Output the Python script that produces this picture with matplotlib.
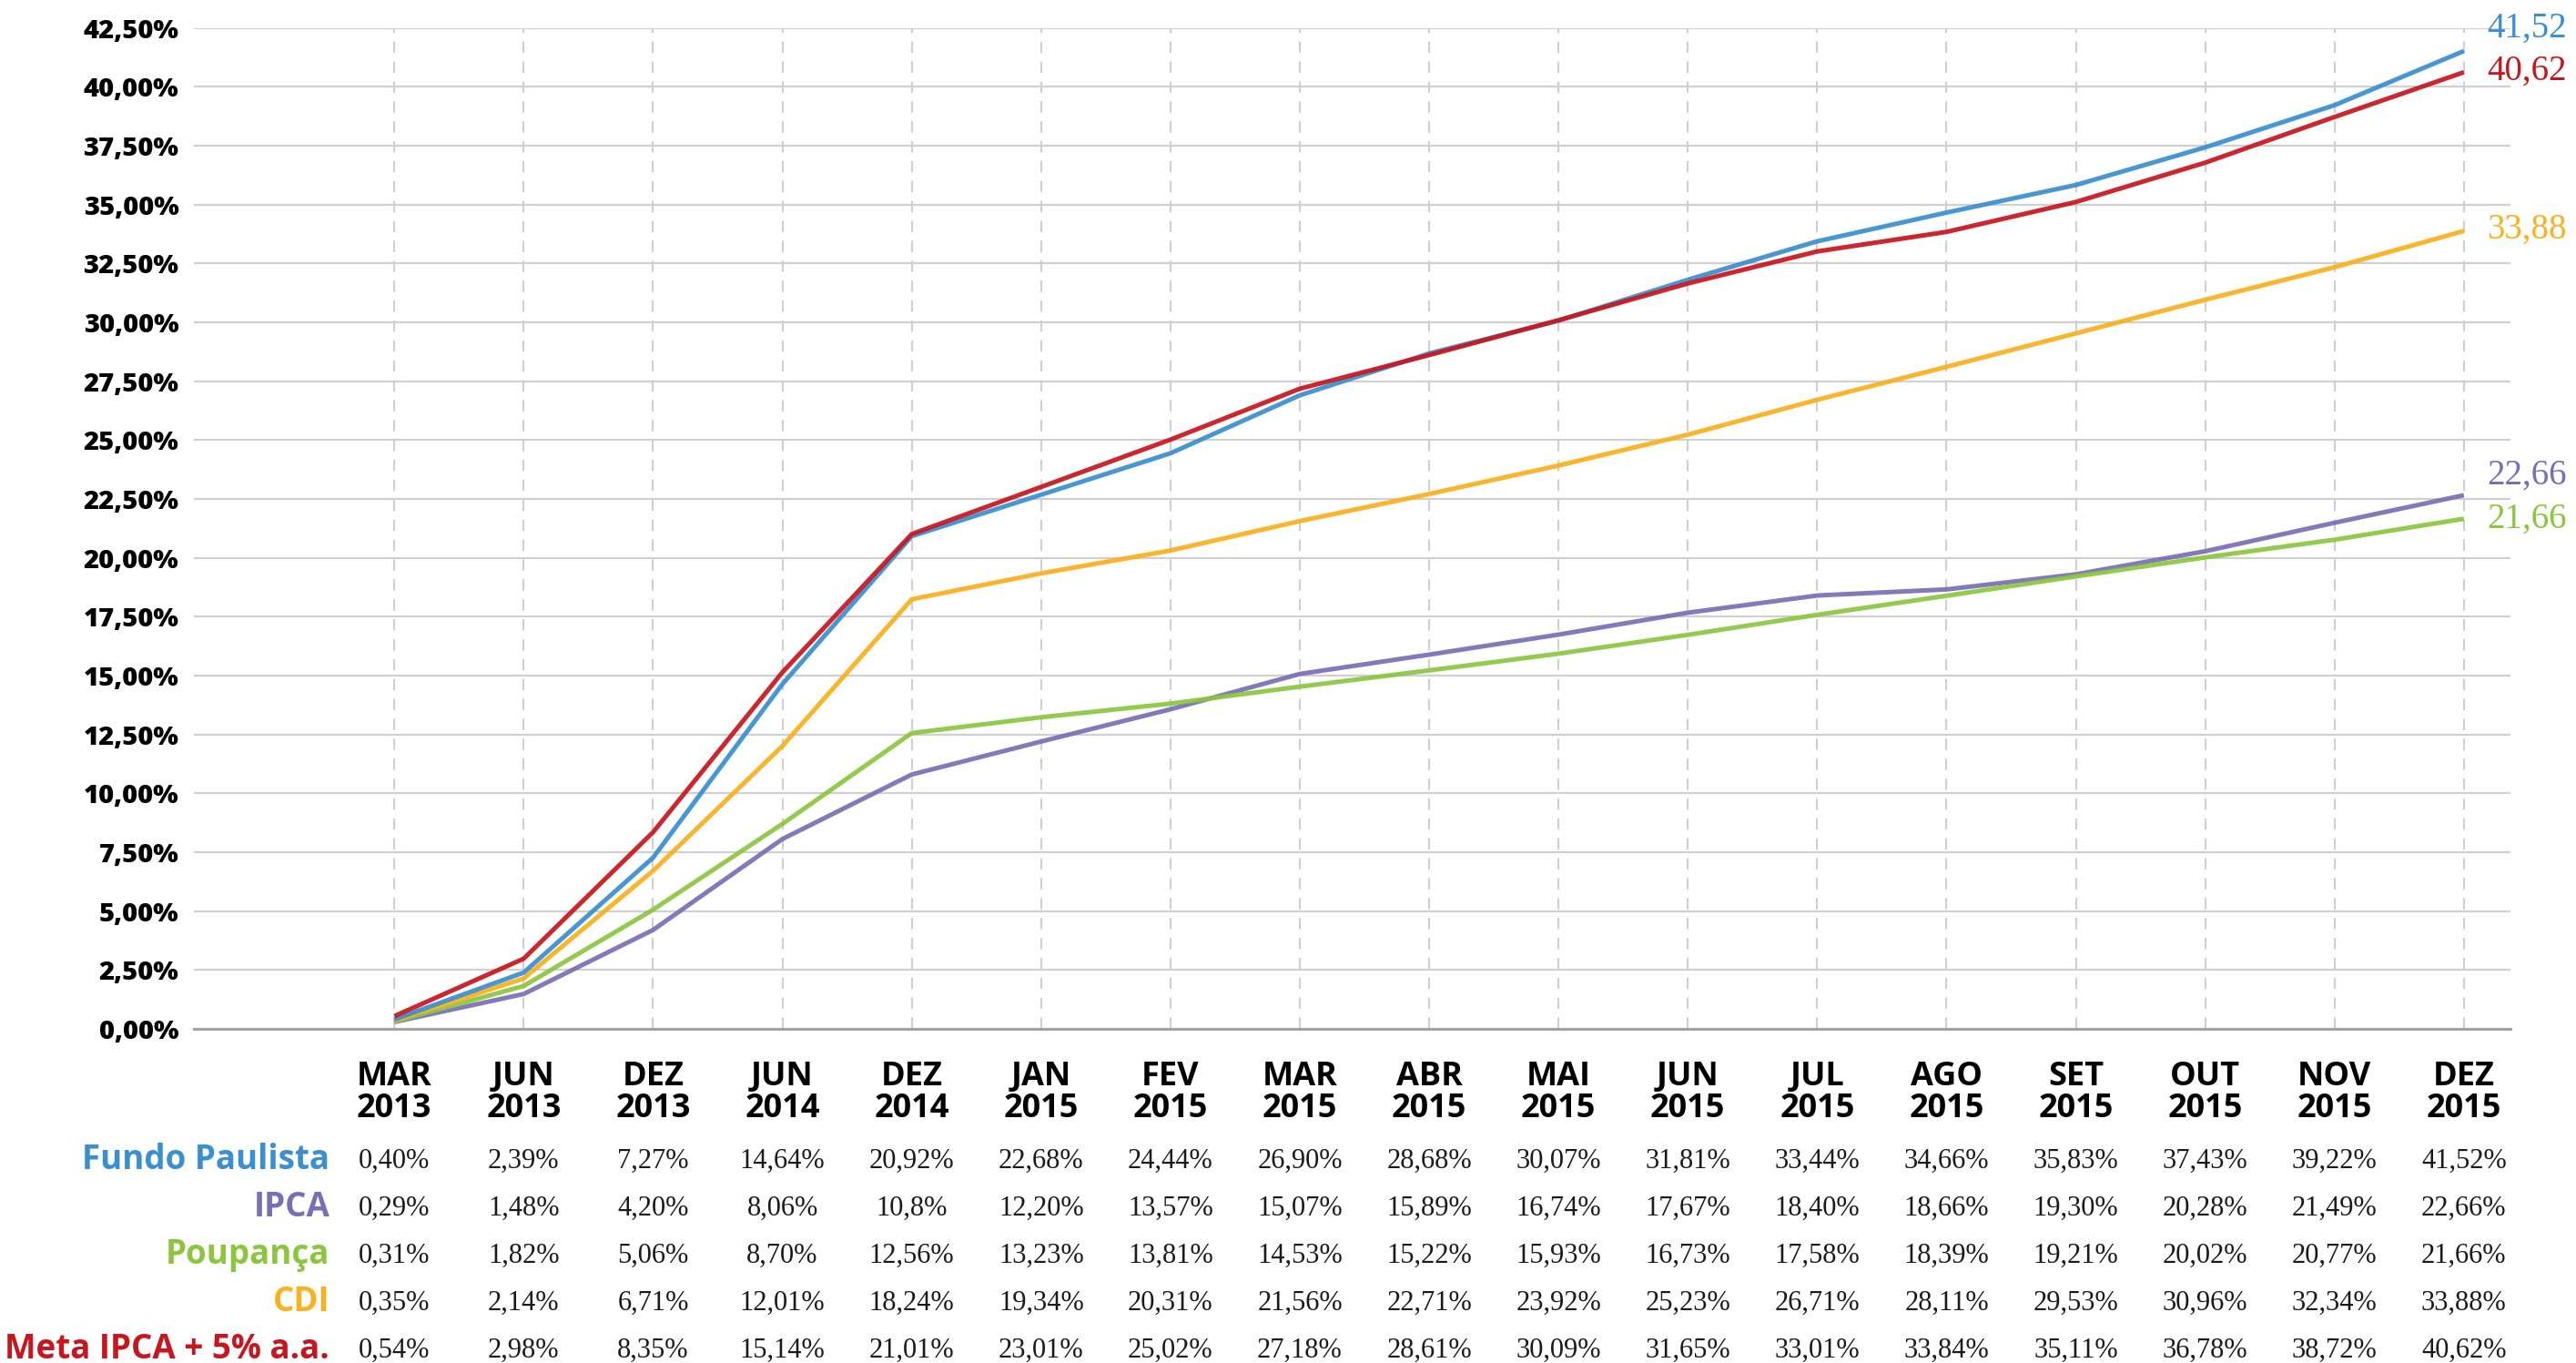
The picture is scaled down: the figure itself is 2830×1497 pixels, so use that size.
import matplotlib
matplotlib.use("Agg")
import matplotlib.pyplot as plt
import matplotlib.transforms as mtransforms
from matplotlib.ticker import FuncFormatter, MultipleLocator

# ---------------- data ----------------
months = ["MAR", "JUN", "DEZ", "JUN", "DEZ", "JAN", "FEV", "MAR", "ABR",
          "MAI", "JUN", "JUL", "AGO", "SET", "OUT", "NOV", "DEZ"]
years = ["2013", "2013", "2013", "2014", "2014", "2015", "2015", "2015", "2015",
         "2015", "2015", "2015", "2015", "2015", "2015", "2015", "2015"]

fundo_paulista = ["0,40", "2,39", "7,27", "14,64", "20,92", "22,68", "24,44", "26,90", "28,68",
                  "30,07", "31,81", "33,44", "34,66", "35,83", "37,43", "39,22", "41,52"]
ipca = ["0,29", "1,48", "4,20", "8,06", "10,8", "12,20", "13,57", "15,07", "15,89",
        "16,74", "17,67", "18,40", "18,66", "19,30", "20,28", "21,49", "22,66"]
poupanca = ["0,31", "1,82", "5,06", "8,70", "12,56", "13,23", "13,81", "14,53", "15,22",
            "15,93", "16,73", "17,58", "18,39", "19,21", "20,02", "20,77", "21,66"]
cdi = ["0,35", "2,14", "6,71", "12,01", "18,24", "19,34", "20,31", "21,56", "22,71",
       "23,92", "25,23", "26,71", "28,11", "29,53", "30,96", "32,34", "33,88"]
meta = ["0,54", "2,98", "8,35", "15,14", "21,01", "23,01", "25,02", "27,18", "28,61",
        "30,09", "31,65", "33,01", "33,84", "35,11", "36,78", "38,72", "40,62"]

series_names = ["Fundo Paulista", "IPCA", "Poupança", "CDI", "Meta IPCA + 5% a.a."]
series_values = [fundo_paulista, ipca, poupanca, cdi, meta]
colors = ["#3a8fd1", "#7a6fb6", "#8cc63f", "#fbb01d", "#c8161e"]
# vertical offset (points) of end labels
label_dy = [18, 16, 0, 1, 1]
draw_order = [1, 2, 3, 0, 4]

ytick_max = 42.5


def to_float(s):
    return float(s.replace(",", "."))


# ---------------- figure ----------------
W, H = 2830, 1497
fig = plt.figure(figsize=(W / 100, H / 100), dpi=100)
ax = fig.add_axes([213 / W, 1 - 1130 / H, (2758 - 213) / W, (1130 - 30.7) / H])

x = list(range(len(months)))

for i in draw_order:
    vals = [to_float(v) for v in series_values[i]]
    ax.plot(x, vals, color=colors[i], lw=3.6, solid_capstyle="butt",
            solid_joinstyle="miter", alpha=0.93, zorder=3)
    ax.annotate(series_values[i][-1], xy=(x[-1], vals[-1]),
                xytext=(18, label_dy[i]), textcoords="offset points",
                ha="left", va="center", color=colors[i],
                fontsize=28, family="Liberation Serif", zorder=4,
                annotation_clip=False)

ax.set_xlim(-1.55, len(months) - 1 + 0.36)
ax.set_ylim(0, ytick_max)
ax.yaxis.set_major_locator(MultipleLocator(2.5))
ax.yaxis.set_major_formatter(FuncFormatter(lambda v, p: f"{v:.2f}%".replace(".", ",")))

for lab in ax.get_yticklabels():
    lab.set_fontfamily("Open Sans")
    lab.set_fontweight("heavy")
ax.tick_params(axis="y", length=0, pad=12, labelsize=21, labelcolor="black")
ax.set_xticks(x)
ax.set_xticklabels([])
ax.tick_params(axis="x", length=0)

ax.grid(axis="y", color="#d0d0d0", lw=1.6, zorder=0)
ax.grid(axis="x", color="#cfcfcf", lw=1.5, linestyle=(0, (6, 4.5)), zorder=0)
ax.set_axisbelow(True)
for s in ["top", "right", "left"]:
    ax.spines[s].set_visible(False)
ax.spines["bottom"].set_color("#a3a3a3")
ax.spines["bottom"].set_linewidth(2.2)
ax.spines["bottom"].set_zorder(2)

# ---------------- category labels and table ----------------
trans = mtransforms.blended_transform_factory(ax.transData, fig.transFigure)


def fy(px):
    return 1 - px / H


for xi, m, y in zip(x, months, years):
    fig.text(xi, fy(1192), m, transform=trans, ha="center", va="baseline",
             fontsize=26, fontweight="bold", family="Open Sans", color="black")
    fig.text(xi, fy(1227), y, transform=trans, ha="center", va="baseline",
             fontsize=26, fontweight="bold", family="Open Sans", color="black")

row_baselines = [1283, 1335, 1387, 1439, 1491]
for name, vals, col, yb in zip(series_names, series_values, colors, row_baselines):
    fig.text(-0.5, fy(yb + 1), name, transform=trans, ha="right", va="baseline",
             fontsize=26.5, fontweight="bold", family="Open Sans", color=col)
    for xi, v in zip(x, vals):
        fig.text(xi, fy(yb), v + "%", transform=trans, ha="center", va="baseline",
                 fontsize=22, family="Liberation Serif", color="#1a1a1a")

fig.savefig("out.png", dpi=100, facecolor="white")
